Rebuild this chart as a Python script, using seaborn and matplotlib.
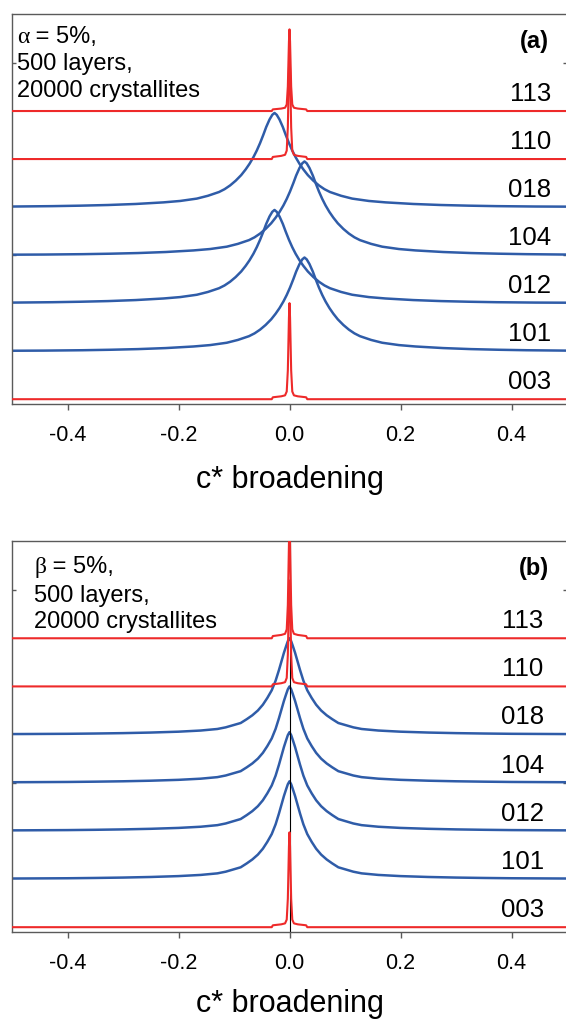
import numpy as np
import pandas as pd
import matplotlib
matplotlib.use("Agg")
import matplotlib.pyplot as plt
import seaborn as sns

# reflections, bottom to top
REFLECTIONS = ["003", "101", "012", "104", "018", "110", "113"]
SHARP = ["003", "110", "113"]          # narrow red peaks
OFFSETS = [0, 1, 2, 3, 4, 5, 6]        # stacking offset of each trace

# peak heights
HEIGHT_A = [2.00, 1.95, 1.94, 1.95, 1.96, 2.20, 1.70]
HEIGHT_B = [1.97, 2.03, 2.05, 2.00, 2.00, 2.20, 2.30]
# peak centres along c*
CENTER_A = [0.0, 0.027, -0.027, 0.027, -0.027, 0.0, 0.0]
CENTER_B = [0.0, 0.0, 0.0, 0.0, 0.0, 0.0, 0.0]

# half-profiles: distance from centre -> fraction of peak height
BROAD_DX_A = [0, 0.004, 0.009, 0.015, 0.020, 0.026, 0.032, 0.038, 0.045, 0.052, 0.060, 0.070,
              0.080, 0.090, 0.100, 0.120, 0.140, 0.170, 0.200, 0.250, 0.300, 0.350, 0.400, 0.470, 0.550]
BROAD_H_A = [1.0, 0.98, 0.93, 0.85, 0.77, 0.68, 0.60, 0.53, 0.46, 0.40, 0.34, 0.28,
             0.23, 0.19, 0.16, 0.12, 0.09, 0.065, 0.05, 0.033, 0.022, 0.015, 0.010, 0.006, 0.004]
BROAD_DX_B = [0, 0.003, 0.006, 0.010, 0.014, 0.019, 0.025, 0.032, 0.040, 0.048, 0.057, 0.067,
              0.077, 0.088, 0.100, 0.115, 0.130, 0.160, 0.200, 0.250, 0.300, 0.350, 0.400, 0.470, 0.550]
BROAD_H_B = [1.0, 0.97, 0.92, 0.85, 0.77, 0.67, 0.56, 0.46, 0.38, 0.31, 0.25, 0.20,
             0.16, 0.12, 0.10, 0.075, 0.058, 0.042, 0.030, 0.021, 0.015, 0.011, 0.008, 0.006, 0.004]
SHARP_DX = [0, 0.001, 0.003, 0.005, 0.008, 0.015, 0.030, 0.032, 0.550]
SHARP_H = [1.0, 0.85, 0.30, 0.08, 0.04, 0.03, 0.02, 0.0, 0.0]

XTICKS = [-0.4, -0.2, 0.0, 0.2, 0.4]

RED = "#ee2a2a"
BLUE = "#2f5ca8"
SPINE = "#5a5a5a"

sns.set_theme(style="ticks")
plt.rcParams["font.family"] = ["Liberation Sans", "DejaVu Sans"]
plt.rcParams["text.color"] = "black"
plt.rcParams["axes.labelcolor"] = "black"
plt.rcParams["xtick.labelcolor"] = "black"


def full_profile(dx, h):
    dx = np.asarray(dx); h = np.asarray(h)
    return np.concatenate([-dx[:0:-1], dx]), np.concatenate([h[:0:-1], h])


def draw_panel(ax, heights, centers, broad_dx, broad_h, greek, tag, text_y, labelpad,
               label_x, vline=False):
    rows = []
    for name, off, hgt, cen in zip(REFLECTIONS, OFFSETS, heights, centers):
        if name in SHARP:
            dx, h = full_profile(SHARP_DX, SHARP_H)
        else:
            dx, h = full_profile(broad_dx, broad_h)
        rows.append(pd.DataFrame({"refl": name, "x": cen + dx, "y": off + hgt * h}))
    df = pd.concat(rows, ignore_index=True)

    for name in REFLECTIONS:
        sub = df[df["refl"] == name]
        sharp = name in SHARP
        sns.lineplot(data=sub, x="x", y="y", ax=ax, sort=False, estimator=None,
                     color=RED if sharp else BLUE, lw=1.5 if sharp else 1.8,
                     zorder=3 if sharp else 2)

    if vline:
        ax.axvline(0, color="black", lw=0.8, zorder=2.5)

    ax.set_xlim(-0.5, 0.5)
    ax.set_ylim(-0.1, 8.02)
    ax.set_xticks(XTICKS)
    ax.set_xticklabels([f"{t:.1f}" for t in XTICKS])
    ax.set_yticks([3, 7])
    ax.set_yticklabels([])
    ax.tick_params(axis="x", direction="out", length=4.3, width=1, color=SPINE,
                   labelsize=15.5, pad=10)
    ax.tick_params(axis="y", direction="in", length=3, width=1, color=SPINE,
                   left=True, right=True)
    ax.set_xlabel("c* broadening", fontsize=22, labelpad=labelpad)
    ax.set_ylabel("")
    for s in ax.spines.values():
        s.set_color(SPINE)
        s.set_linewidth(1.0)

    # row labels
    for name, off in zip(REFLECTIONS, OFFSETS):
        ax.text(label_x, off + 0.23, name, transform=ax.get_yaxis_transform(),
                ha="right", va="baseline", fontsize=18.5)

    ax.text(0.9676, 0.933, tag, transform=ax.transAxes, ha="right", va="center",
            fontsize=17, fontweight="bold")

    x0, (y1, y2, y3) = text_y
    g = ax.text(x0, y1, greek, transform=ax.transAxes, ha="left", va="baseline",
                fontsize=17, family="Liberation Serif")
    ax.annotate(" = 5%,", xy=(1, 0), xycoords=g, ha="left", va="bottom", fontsize=17)
    ax.text(x0, y2, "500 layers,", transform=ax.transAxes, ha="left", va="baseline", fontsize=17)
    ax.text(x0, y3, "20000 crystallites", transform=ax.transAxes, ha="left", va="baseline", fontsize=17)


fig = plt.figure(figsize=(5.66, 10.2), dpi=100)
ax_a = fig.add_axes([12 / 566, 1 - 405 / 1020, 555 / 566, 390 / 1020])
ax_b = fig.add_axes([12 / 566, 1 - 933 / 1020, 555 / 566, 391 / 1020])

draw_panel(ax_a, HEIGHT_A, CENTER_A, BROAD_DX_A, BROAD_H_A, "α", "(a)",
           (0.009, (0.928, 0.859, 0.790)), labelpad=14, label_x=0.971)
draw_panel(ax_b, HEIGHT_B, CENTER_B, BROAD_DX_B, BROAD_H_B, "β", "(b)",
           (0.040, (0.921, 0.847, 0.780)), labelpad=11, label_x=0.958, vline=True)

fig.savefig("out.png", dpi=100)
